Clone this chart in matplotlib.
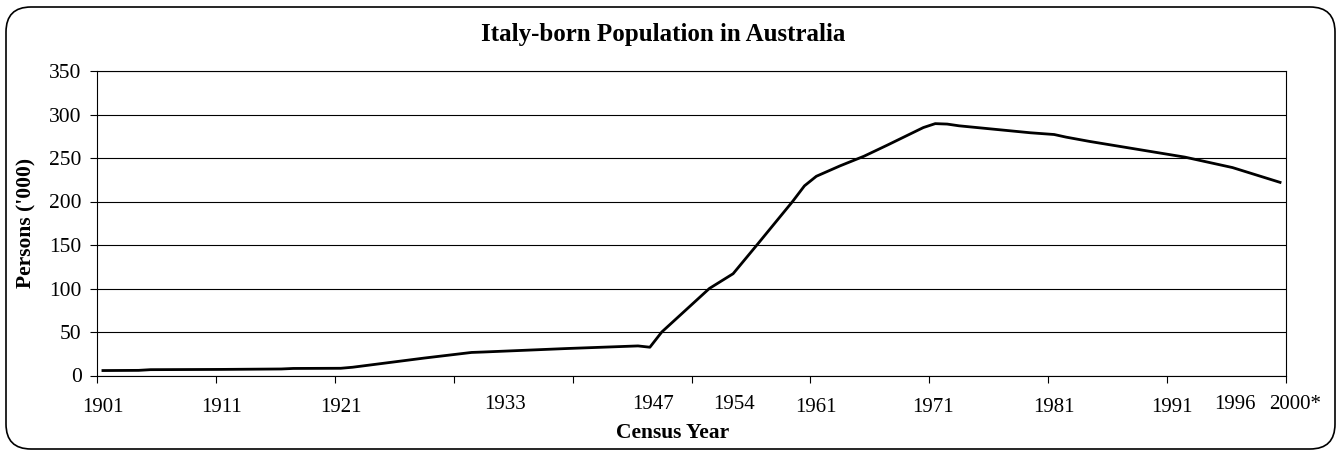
import matplotlib.pyplot as plt
from matplotlib.patches import FancyBboxPatch
from matplotlib.transforms import blended_transform_factory

plt.rcParams['font.family'] = ['Liberation Serif', 'DejaVu Serif']

# Italy-born persons ('000)
years = [1901, 1904, 1905, 1911, 1916, 1917, 1921, 1922, 1928, 1932, 1933,
         1940, 1946, 1947, 1948, 1952, 1954, 1956, 1959, 1960, 1961, 1962,
         1963, 1965, 1967, 1970, 1971, 1972, 1973, 1976, 1979, 1981, 1982,
         1984, 1990, 1992, 1996, 2000]
persons = [5.7, 5.9, 6.7, 7.0, 7.5, 8.1, 8.3, 9.5, 20.0, 26.5, 27.0,
           31.0, 34.0, 32.5, 50.0, 100.0, 117.0, 150.0, 200.0, 218.0, 229.0, 235.0,
           241.0, 252.0, 265.0, 285.0, 289.5, 289.0, 287.0, 283.0, 279.0, 277.0, 274.0,
           269.0, 255.5, 251.0, 239.0, 222.0]

census_labels = ['1901', '1911', '1921', '1933', '1947', '1954', '1961',
                 '1971', '1981', '1991', '1996', '2000*']
label_x = [1901, 1911, 1921, 1934.8, 1947.3, 1954.1, 1961, 1970.8,
           1981, 1990.9, 1996.2, 2001.3]
label_raised = [False, False, False, True, True, True, False,
                False, False, False, True, True]

fig = plt.figure(figsize=(13.41, 4.54), dpi=100)
ax = fig.add_axes([97 / 1341, 1 - 375.5 / 454, (1286 - 97) / 1341, (375.5 - 71) / 454])

ax.plot(years, persons, color='black', linewidth=2.0, solid_joinstyle='round')

ax.set_xlim(1900.5, 2000.5)
ax.set_ylim(0, 350)
ax.set_yticks(range(0, 351, 50))
ax.set_xticks([1900.5 + 10 * k for k in range(11)])
ax.set_xticklabels([])
ax.yaxis.grid(True, color='black', linewidth=0.8)
ax.set_axisbelow(True)
for s in ax.spines.values():
    s.set_color('black')
    s.set_linewidth(0.8)
ax.tick_params(axis='both', direction='out', length=5, width=0.8, colors='black')
ax.tick_params(axis='y', labelsize=15.5, pad=6)

trans = blended_transform_factory(ax.transData, ax.transAxes)
for lab, xp, up in zip(census_labels, label_x, label_raised):
    ax.text(xp, -0.094 if up else -0.105, lab, transform=trans, ha='center',
            va='center', fontsize=15)

fig.text(663 / 1341, 1 - 35 / 454, 'Italy-born Population in Australia',
         ha='center', va='center', fontsize=18, fontweight='bold')
fig.text(673 / 1341, 1 - 433 / 454, 'Census Year', ha='center', va='center',
         fontsize=15.5, fontweight='bold')
fig.text(26 / 1341, 1 - 223 / 454, "Persons ('000)", rotation=90, ha='center',
         va='center', fontsize=15.5, fontweight='bold')

border = FancyBboxPatch((6, 5), 1329, 442, boxstyle='round,pad=0,rounding_size=25',
                        transform=None, facecolor='none', edgecolor='black',
                        linewidth=1.2)
fig.add_artist(border)

fig.savefig('out.png', dpi=100)
